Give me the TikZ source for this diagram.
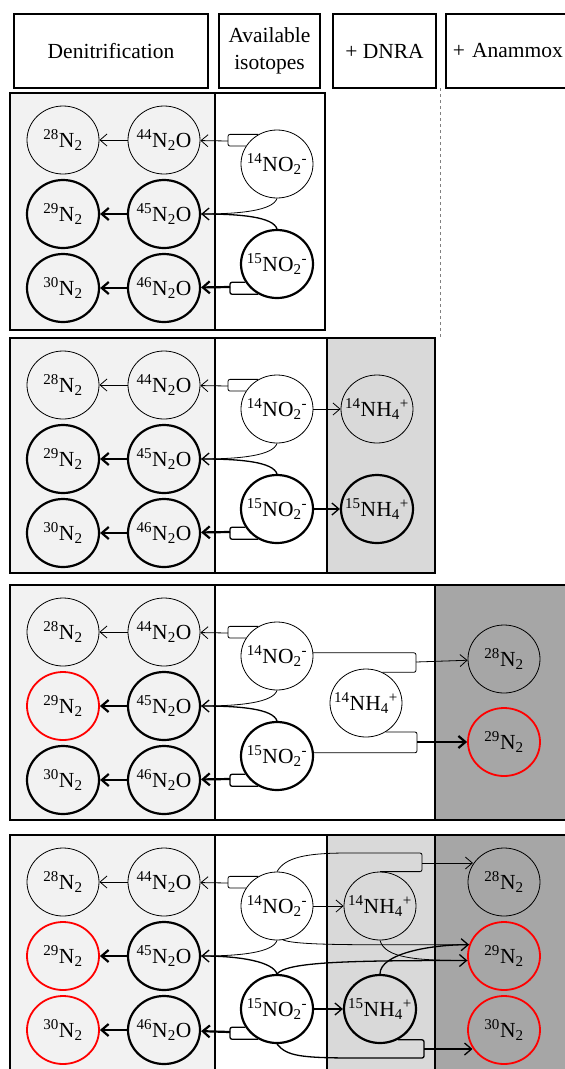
\documentclass[tikz,border=0pt]{standalone}
\usepackage{fontspec}
\setmainfont{Liberation Serif}
\usetikzlibrary{arrows.meta,shapes.geometric}
\definecolor{denigray}{gray}{0.95}
\definecolor{dnragray}{gray}{0.85}
\definecolor{anagray}{gray}{0.65}
\newcommand{\lbl}[1]{\makebox[0pt]{#1}}
\newcommand{\pNtwo}[1]{\lbl{\textsuperscript{#1}N\textsubscript{2}}}
\newcommand{\pNtwoO}[1]{\lbl{\textsuperscript{#1}N\textsubscript{2}O}}
\newcommand{\pNOtwo}[1]{\lbl{\textsuperscript{#1}NO\textsubscript{2}\textsuperscript{-}}}
\newcommand{\pNHfour}[1]{\lbl{\textsuperscript{#1}NH\textsubscript{4}\textsuperscript{+}}}
\begin{document}
\begin{tikzpicture}[x=1pt,y=1pt,
	font=\fontsize{21.5}{27}\selectfont,
	pool/.style={ellipse,draw,minimum width=72pt,minimum height=68pt,inner sep=0pt},
	lt/.style={line width=0.8pt},
	md/.style={line width=1.3pt},
	hv/.style={line width=2.2pt},
	rd/.style={draw=red,line width=1.8pt},
	flow/.style={-{Straight Barb[length=7pt,width=12pt]}},
	brk/.style={rounded corners=2pt},
	hdr/.style={draw,line width=1.6pt,minimum height=74pt,inner sep=2pt},
	frame/.style={line width=1.6pt},
	divider/.style={line width=1.2pt}]
	\pgfmathsetmacro{\xN}{63};
	\pgfmathsetmacro{\xO}{164};
	\pgfmathsetmacro{\xNO}{277};
	\pgfmathsetmacro{\yA}{-47};
	\pgfmathsetmacro{\yB}{-121};
	\pgfmathsetmacro{\yC}{-195};
	\pgfmathsetmacro{\yP}{-71};
	\pgfmathsetmacro{\yQ}{-171};
%
	\useasboundingbox (0,0) rectangle (565,-1069);
	\clip (0,0) rectangle (565,-1069);
	\fill[white] (0,0) rectangle (565,-1069);
%
	\node[hdr,minimum width=194pt] (hDen) at (111,-51) {Denitrification};
	\node[hdr,minimum width=101pt,align=center] (hIso) at (269.5,-51) {Available\\isotopes};
	\node[hdr,minimum width=103pt] (hDnra) at (384.5,-51) {+ DNRA};
	\node[hdr,anchor=west,text width=140pt,align=left,inner xsep=7pt] (hAna) at (445,-51) {+ Anammox};
	\draw[dashed,gray,line width=0.7pt] (440,-88) -- (440,-338);
%
	\begin{scope}[shift={(0,-93)}]
		\fill[denigray] (10,0) rectangle (215,-237);
		\draw[divider] (215,0) -- (215,-237);
		\draw[frame] (10,0) rectangle (325,-237);
		\node[pool,lt] (n28A) at (\xN,\yA) {\pNtwo{28}};
		\node[pool,lt] (o44A) at (\xO,\yA) {\pNtwoO{44}};
		\node[pool,hv] (n29A) at (\xN,\yB) {\pNtwo{29}};
		\node[pool,hv] (o45A) at (\xO,\yB) {\pNtwoO{45}};
		\node[pool,hv] (n30A) at (\xN,\yC) {\pNtwo{30}};
		\node[pool,hv] (o46A) at (\xO,\yC) {\pNtwoO{46}};
		\node[pool,lt] (no14A) at (\xNO,\yP) {\pNOtwo{14}};
		\node[pool,hv] (no15A) at (\xNO,\yQ) {\pNOtwo{15}};
		\coordinate (b44A) at (228,-48);
		\coordinate (b46A) at (230,-194);
		\draw[lt,flow] (o44A) -- (n28A);
		\draw[hv,flow] (o45A) -- (n29A);
		\draw[hv,flow] (o46A) -- (n30A);
		\draw[lt,brk] (no14A.122) -- (no14A.122 -| b44A) -- (no14A.150 -| b44A) -- (no14A.150);
		\draw[lt,flow] (b44A) -- (o44A);
		\draw[md,brk] (no15A.-122) -- (no15A.-122 -| b46A) -- (no15A.-150 -| b46A) -- (no15A.-150);
		\draw[hv,flow] (b46A) -- (o46A);
		\draw[lt] (no14A.south) .. controls +(-4,-12) and +(40,0) .. (o45A.east);
		\draw[md,flow] (no15A.north) .. controls +(-4,12) and +(40,0) .. (o45A.east);
	\end{scope}
%
	\begin{scope}[shift={(0,-338)}]
		\fill[denigray] (10,0) rectangle (215,-235);
		\fill[dnragray] (327,0) rectangle (435,-235);
		\draw[divider] (215,0) -- (215,-235);
		\draw[divider] (327,0) -- (327,-235);
		\draw[frame] (10,0) rectangle (435,-235);
		\node[pool,lt] (n28B) at (\xN,\yA) {\pNtwo{28}};
		\node[pool,lt] (o44B) at (\xO,\yA) {\pNtwoO{44}};
		\node[pool,hv] (n29B) at (\xN,\yB) {\pNtwo{29}};
		\node[pool,hv] (o45B) at (\xO,\yB) {\pNtwoO{45}};
		\node[pool,hv] (n30B) at (\xN,\yC) {\pNtwo{30}};
		\node[pool,hv] (o46B) at (\xO,\yC) {\pNtwoO{46}};
		\node[pool,lt] (no14B) at (\xNO,\yP) {\pNOtwo{14}};
		\node[pool,hv] (no15B) at (\xNO,\yQ) {\pNOtwo{15}};
		\node[pool,lt] (nh14B) at (377,\yP) {\pNHfour{14}};
		\node[pool,hv] (nh15B) at (377,\yQ) {\pNHfour{15}};
		\coordinate (b44B) at (228,-48);
		\coordinate (b46B) at (230,-194);
		\draw[lt,flow] (o44B) -- (n28B);
		\draw[hv,flow] (o45B) -- (n29B);
		\draw[hv,flow] (o46B) -- (n30B);
		\draw[lt,brk] (no14B.122) -- (no14B.122 -| b44B) -- (no14B.150 -| b44B) -- (no14B.150);
		\draw[lt,flow] (b44B) -- (o44B);
		\draw[md,brk] (no15B.-122) -- (no15B.-122 -| b46B) -- (no15B.-150 -| b46B) -- (no15B.-150);
		\draw[hv,flow] (b46B) -- (o46B);
		\draw[lt] (no14B.south) .. controls +(-4,-12) and +(40,0) .. (o45B.east);
		\draw[md,flow] (no15B.north) .. controls +(-4,12) and +(40,0) .. (o45B.east);
		\draw[lt,flow] (no14B) -- (nh14B);
		\draw[md,flow] (no15B) -- (nh15B);
	\end{scope}
%
	\begin{scope}[shift={(0,-585)}]
		\fill[denigray] (10,0) rectangle (215,-235);
		\fill[anagray] (435,0) rectangle (575,-235);
		\draw[divider] (215,0) -- (215,-235);
		\draw[divider] (435,0) -- (435,-235);
		\draw[frame] (10,0) rectangle (575,-235);
		\node[pool,lt] (n28C) at (\xN,\yA) {\pNtwo{28}};
		\node[pool,lt] (o44C) at (\xO,\yA) {\pNtwoO{44}};
		\node[pool,rd] (n29C) at (\xN,\yB) {\pNtwo{29}};
		\node[pool,hv] (o45C) at (\xO,\yB) {\pNtwoO{45}};
		\node[pool,hv] (n30C) at (\xN,\yC) {\pNtwo{30}};
		\node[pool,hv] (o46C) at (\xO,\yC) {\pNtwoO{46}};
		\node[pool,lt] (no14C) at (\xNO,\yP) {\pNOtwo{14}};
		\node[pool,hv] (no15C) at (\xNO,\yQ) {\pNOtwo{15}};
		\node[pool,lt] (nh14C) at (366,-118) {\pNHfour{14}};
		\node[pool,lt] (r28C) at (504,-74) {\pNtwo{28}};
		\node[pool,rd] (r29C) at (504,-157) {\pNtwo{29}};
		\coordinate (b44C) at (228,-48);
		\coordinate (b46C) at (230,-194);
		\coordinate (b28C) at (416,-77);
		\coordinate (b29C) at (417,-157);
		\draw[lt,flow] (o44C) -- (n28C);
		\draw[hv,flow] (o45C) -- (n29C);
		\draw[hv,flow] (o46C) -- (n30C);
		\draw[lt,brk] (no14C.122) -- (no14C.122 -| b44C) -- (no14C.150 -| b44C) -- (no14C.150);
		\draw[lt,flow] (b44C) -- (o44C);
		\draw[md,brk] (no15C.-122) -- (no15C.-122 -| b46C) -- (no15C.-150 -| b46C) -- (no15C.-150);
		\draw[hv,flow] (b46C) -- (o46C);
		\draw[lt] (no14C.south) .. controls +(-4,-12) and +(40,0) .. (o45C.east);
		\draw[md,flow] (no15C.north) .. controls +(-4,12) and +(40,0) .. (o45C.east);
		\draw[lt,brk] (no14C.5) -- (no14C.5 -| b28C) -- (nh14C.62 -| b28C) -- (nh14C.62);
		\draw[lt,flow] (b28C) -- (r28C);
		\draw[lt,brk] (nh14C.-56) -- (nh14C.-56 -| b29C) -- (no15C.5 -| b29C) -- (no15C.5);
		\draw[hv,flow] (b29C) -- (r29C);
	\end{scope}
%
	\begin{scope}[shift={(0,-835)}]
		\fill[denigray] (10,0) rectangle (215,-240);
		\fill[dnragray] (327,0) rectangle (435,-240);
		\fill[anagray] (435,0) rectangle (575,-240);
		\draw[divider] (215,0) -- (215,-240);
		\draw[divider] (327,0) -- (327,-240);
		\draw[divider] (435,0) -- (435,-240);
		\draw[frame] (10,0) rectangle (575,-240);
		\node[pool,lt] (n28D) at (\xN,\yA) {\pNtwo{28}};
		\node[pool,lt] (o44D) at (\xO,\yA) {\pNtwoO{44}};
		\node[pool,rd] (n29D) at (\xN,\yB) {\pNtwo{29}};
		\node[pool,hv] (o45D) at (\xO,\yB) {\pNtwoO{45}};
		\node[pool,rd] (n30D) at (\xN,\yC) {\pNtwo{30}};
		\node[pool,hv] (o46D) at (\xO,\yC) {\pNtwoO{46}};
		\node[pool,lt] (no14D) at (\xNO,\yP) {\pNOtwo{14}};
		\node[pool,hv] (no15D) at (\xNO,-174) {\pNOtwo{15}};
		\node[pool,lt] (nh14D) at (380,\yP) {\pNHfour{14}};
		\node[pool,hv] (nh15D) at (380,-174) {\pNHfour{15}};
		\node[pool,lt] (r28D) at (504,\yA) {\pNtwo{28}};
		\node[pool,rd] (r29D) at (504,\yB) {\pNtwo{29}};
		\node[pool,rd] (r30D) at (504,\yC) {\pNtwo{30}};
		\coordinate (b44D) at (228,-48);
		\coordinate (b46D) at (230,-197);
		\coordinate (b28D) at (422,-28);
		\coordinate (b30D) at (424,-214);
		\draw[lt,flow] (o44D) -- (n28D);
		\draw[hv,flow] (o45D) -- (n29D);
		\draw[hv,flow] (o46D) -- (n30D);
		\draw[lt,brk] (no14D.122) -- (no14D.122 -| b44D) -- (no14D.150 -| b44D) -- (no14D.150);
		\draw[lt,flow] (b44D) -- (o44D);
		\draw[md,brk] (no15D.-122) -- (no15D.-122 -| b46D) -- (no15D.-150 -| b46D) -- (no15D.-150);
		\draw[hv,flow] (b46D) -- (o46D);
		\draw[lt] (no14D.south) .. controls +(-4,-12) and +(40,0) .. (o45D.east);
		\draw[md,flow] (no15D.north) .. controls +(-4,12) and +(40,0) .. (o45D.east);
		\draw[lt,flow] (no14D) -- (nh14D);
		\draw[md,flow] (no15D) -- (nh15D);
		\draw[lt,brk] (no14D.north) .. controls +(8,14) and +(-45,0) .. (350,-18) -- (422,-18) -- (nh14D.north -| b28D) -- (nh14D.north);
		\draw[lt,flow] (b28D) -- (b28D -| r28D.150);
		\draw[lt] (no14D.-80) .. controls +(15,-6) and +(-100,0) .. (r29D.162);
		\draw[md,flow] (nh15D.north) .. controls +(0,20) and +(-40,0) .. (r29D.162);
		\draw[lt] (nh14D.south) .. controls +(5,-18) and +(-50,0) .. (r29D.187);
		\draw[md,flow] (no15D.north) .. controls +(10,12) and +(-120,0) .. (r29D.187);
		\draw[md,brk] (nh15D.-60) -- (nh15D.-60 -| b30D) -- (424,-223) -- (360,-223) .. controls +(-60,0) and +(10,-12) .. (no15D.south);
		\draw[md,flow] (b30D) -- (b30D -| r30D.210);
	\end{scope}
\end{tikzpicture}
\end{document}
